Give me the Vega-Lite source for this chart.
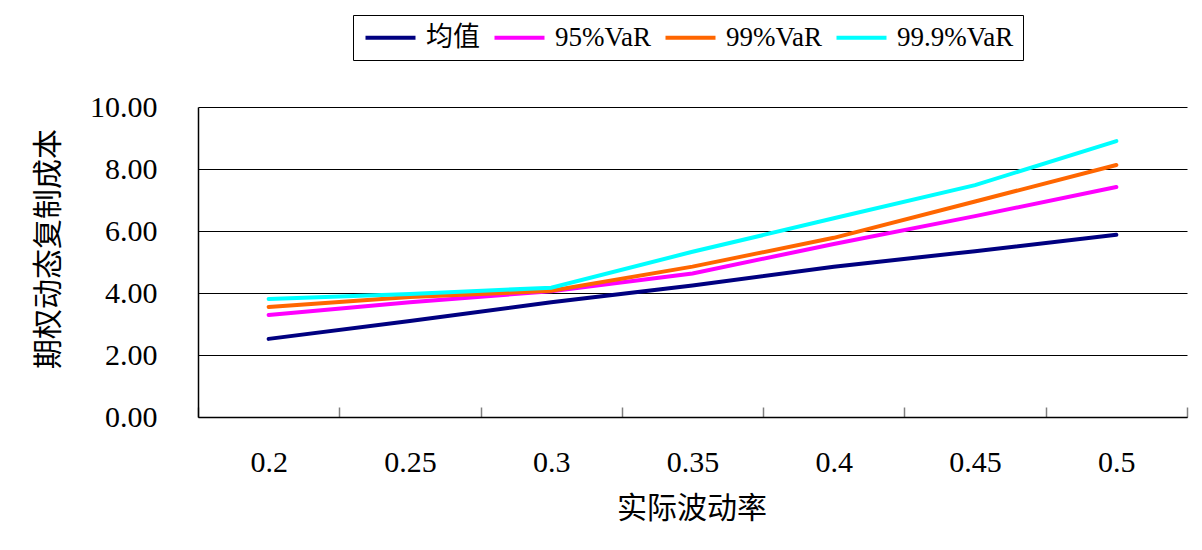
{
  "$schema": "https://vega.github.io/schema/vega-lite/v6.json",
  "autosize": {"type": "none"},
  "padding": {"left": 198, "top": 107, "right": 15, "bottom": 133},
  "width": 989,
  "height": 310,
  "background": "white",
  "config": {
    "view": {"stroke": null},
    "font": "Liberation Serif, serif",
    "axis": {
      "labelFont": "Liberation Serif, serif",
      "titleFont": "Noto Sans CJK SC",
      "labelColor": "black",
      "titleColor": "black",
      "titleFontWeight": "normal",
      "domainColor": "black",
      "domainWidth": 1.5
    }
  },
  "data": {
    "values": [
      {"vol": "0.2", "series": "均值", "cost": 2.52},
      {"vol": "0.25", "series": "均值", "cost": 3.10},
      {"vol": "0.3", "series": "均值", "cost": 3.70},
      {"vol": "0.35", "series": "均值", "cost": 4.24},
      {"vol": "0.4", "series": "均值", "cost": 4.85},
      {"vol": "0.45", "series": "均值", "cost": 5.35},
      {"vol": "0.5", "series": "均值", "cost": 5.88},
      {"vol": "0.2", "series": "95%VaR", "cost": 3.29},
      {"vol": "0.25", "series": "95%VaR", "cost": 3.70},
      {"vol": "0.3", "series": "95%VaR", "cost": 4.06},
      {"vol": "0.35", "series": "95%VaR", "cost": 4.63},
      {"vol": "0.4", "series": "95%VaR", "cost": 5.58},
      {"vol": "0.45", "series": "95%VaR", "cost": 6.48},
      {"vol": "0.5", "series": "95%VaR", "cost": 7.42},
      {"vol": "0.2", "series": "99%VaR", "cost": 3.55},
      {"vol": "0.25", "series": "99%VaR", "cost": 3.87},
      {"vol": "0.3", "series": "99%VaR", "cost": 4.07},
      {"vol": "0.35", "series": "99%VaR", "cost": 4.85},
      {"vol": "0.4", "series": "99%VaR", "cost": 5.78},
      {"vol": "0.45", "series": "99%VaR", "cost": 6.95},
      {"vol": "0.5", "series": "99%VaR", "cost": 8.13},
      {"vol": "0.2", "series": "99.9%VaR", "cost": 3.81},
      {"vol": "0.25", "series": "99.9%VaR", "cost": 3.97},
      {"vol": "0.3", "series": "99.9%VaR", "cost": 4.17},
      {"vol": "0.35", "series": "99.9%VaR", "cost": 5.33},
      {"vol": "0.4", "series": "99.9%VaR", "cost": 6.41},
      {"vol": "0.45", "series": "99.9%VaR", "cost": 7.48},
      {"vol": "0.5", "series": "99.9%VaR", "cost": 8.90}
    ]
  },
  "mark": {"type": "line", "strokeWidth": 4, "strokeCap": "round"},
  "encoding": {
    "x": {
      "field": "vol",
      "type": "ordinal",
      "sort": null,
      "bandPosition": 0.5,
      "scale": {"type": "band", "paddingInner": 0, "paddingOuter": 0},
      "axis": {
        "title": "实际波动率",
        "titleFontSize": 30,
        "titleX": 493.5,
        "titleY": 91.5,
        "titleBaseline": "middle",
        "titleAlign": "center",
        "labelAngle": 0,
        "labelFontSize": 30,
        "labelBaseline": "middle",
        "labelPadding": 55,
        "tickBand": "extent",
        "tickColor": "#808080",
        "tickWidth": 1.5,
        "tickSize": -10,
        "grid": false
      }
    },
    "y": {
      "field": "cost",
      "type": "quantitative",
      "scale": {"domain": [0, 10], "nice": false},
      "axis": {
        "title": "期权动态复制成本",
        "titleFontSize": 30,
        "titleX": -150,
        "titleY": 141.5,
        "titleAngle": -90,
        "titleBaseline": "middle",
        "titleAlign": "center",
        "values": [0, 2, 4, 6, 8, 10],
        "format": ".2f",
        "labelFontSize": 30,
        "labelPadding": 41,
        "ticks": false,
        "grid": true,
        "gridColor": "black",
        "gridWidth": 1,
        "gridOpacity": 1
      }
    },
    "color": {
      "field": "series",
      "type": "nominal",
      "scale": {
        "domain": ["均值", "95%VaR", "99%VaR", "99.9%VaR"],
        "range": ["#000080", "#FF00FF", "#FF6600", "#00FFFF"]
      },
      "legend": {
        "title": null,
        "orient": "none",
        "direction": "horizontal",
        "legendX": 155,
        "legendY": -92,
        "strokeColor": "black",
        "fillColor": "white",
        "padding": 9,
        "symbolType": "M-1,0H4",
        "symbolSize": 400,
        "symbolStrokeWidth": 4,
        "labelFont": "Liberation Serif, Noto Sans CJK SC",
        "labelFontSize": 27,
        "labelColor": "black",
        "labelOffset": 37,
        "columnPadding": 6,
        "labelLimit": 300
      }
    }
  }
}
